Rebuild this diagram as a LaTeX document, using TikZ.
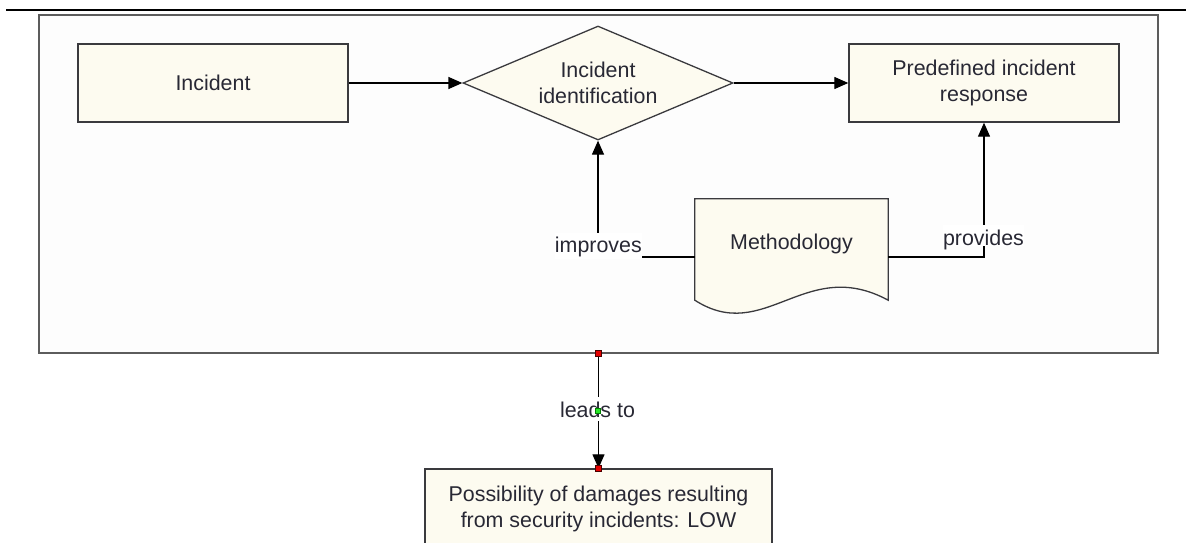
\documentclass[tikz,border=0pt]{standalone}
\usepackage{fontspec}
\setmainfont{Liberation Sans}
\usetikzlibrary{shapes.geometric,arrows.meta,calc}

\definecolor{boxfill}{RGB}{253,251,240}
\definecolor{boxline}{RGB}{58,58,62}
\definecolor{framefill}{RGB}{253,253,253}
\definecolor{frameline}{RGB}{92,92,92}
\definecolor{inktext}{RGB}{40,40,52}
\definecolor{handlered}{RGB}{228,0,0}
\definecolor{handlegreen}{RGB}{40,230,40}

\tikzset{
  every node/.style={font=\fontsize{21.4}{26}\selectfont, text=inktext},
  procbox/.style={draw=boxline, fill=boxfill, line width=1.4pt, rectangle,
    minimum width=270pt, minimum height=78pt, inner sep=0pt, align=center},
  decision/.style={draw=boxline, fill=boxfill, line width=1.3pt, diamond,
    aspect=2.37, minimum width=270pt, minimum height=114pt, inner sep=0pt, align=center},
  link/.style={draw=black, line width=1.3pt},
  arrowlink/.style={link, -{Triangle[length=14pt,width=12pt]}},
  edgelabel/.style={fill=white, inner xsep=0pt, inner ysep=0pt,
    text height=20pt, text depth=6pt, anchor=base},
  handle/.style={draw=black!70!red, fill=handlered, line width=0.6pt,
    minimum size=6pt, inner sep=0pt, rectangle},
}

\begin{document}
\begin{tikzpicture}[x=1pt, y=-1pt]
  \useasboundingbox (0,0) rectangle (1186,543);
  \clip (0,0) rectangle (1186,543);
  \fill[white] (0,0) rectangle (1186,543);

  % page rule
  \coordinate (ruleL) at (6,10);
  \coordinate (ruleR) at (1186,10);
  \draw[line width=2.2pt, black] (ruleL) -- (ruleR);

  % enclosing frame
  \node[draw=frameline, fill=framefill, line width=1.3pt, rectangle,
        minimum width=1119pt, minimum height=338pt, inner sep=0pt]
        (frame) at (598.5,184) {};

  % process flow
  \node[procbox] (incident) at (213,83) {Incident};
  \node[decision] (ident) at (598,83) {Incident\\identification};
  \node[procbox] (response) at (984,83) {Predefined incident\\response};

  % methodology document shape (wavy lower edge)
  \node[rectangle, minimum width=193pt, minimum height=116pt, inner sep=0pt]
        (meth) at (791.5,257) {};
  \draw[draw=boxline, fill=boxfill, line width=1.3pt]
    ($(meth.south west)+(0,-15)$) -- (meth.north west) -- (meth.north east)
    -- ($(meth.south east)+(0,-15)$)
    .. controls ($(meth.south east)+(-83,-60)$) and ($(meth.south west)+(70,30)$) ..
    ($(meth.south west)+(0,-15)$) -- cycle;
  \node[anchor=base] (methtext) at (791.5,249) {Methodology};

  % connectors in the flow
  \draw[arrowlink] (incident.east) -- (ident.west);
  \draw[arrowlink] (ident.east) -- (response.west);
  \draw[arrowlink] (meth.west) -| (ident.south);
  \draw[arrowlink] (meth.east) -| (response.south);
  \node[edgelabel] (improves) at (598.35,252.7) {improves};
  \node[edgelabel, text depth=1pt] (provides) at (983.5,245) {provides};

  % outcome
  \node[draw=boxline, fill=boxfill, line width=1.4pt, rectangle,
        minimum width=347pt, minimum height=100pt, inner sep=0pt]
        (outcome) at (598.5,519) {};
  \node[anchor=base, align=center] (outcometext) at (598.5,527)
        {Possibility of damages resulting\\from security incidents: LOW};

  \draw[arrowlink] (frame.south) -- (outcome.north);
  \node[edgelabel, text depth=4pt] (leads) at (597.5,417.3) {leads to};

  % connection handles
  \node[handle] (hA) at (frame.south) {};
  \node[handle] (hB) at (outcome.north) {};
  \node[draw=green!50!black, fill=handlegreen, line width=0.4pt, rectangle,
        minimum size=5pt, inner sep=0pt] (hC) at (598,411) {};
\end{tikzpicture}
\end{document}
